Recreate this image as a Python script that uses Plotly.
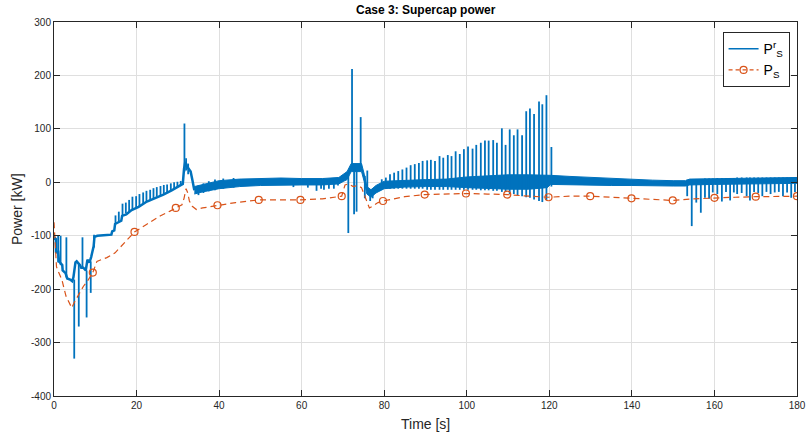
import plotly.graph_objects as go

# ---------------- data ----------------
# P_S^r : main trace (0-34 s)
blue_t = [0, 0.2, 0.45, 0.5, 0.9, 1.0, 1.2, 1.5, 1.7, 2.0, 2.1, 2.8, 3.2, 3.9, 4.4, 4.7, 5.2, 5.5, 6.3, 6.6,
          7.1, 7.7, 8.1, 8.6, 9.0, 9.4, 9.6, 9.8, 10.5, 12, 13.9, 14.1, 14.6, 14.8, 16.3, 16.5, 17.5, 18.8, 20.5,
          22.5, 24.5, 26.5, 28.5, 30.5, 31.2, 31.5, 31.8, 32.2, 32.7, 33.1, 33.5, 34.0]
blue_p = [-108, -104, -106, -132, -130, -128, -148, -150, -152, -155, -165, -170, -180, -182, -185, -178, -150, -148, -155, -160,
          -160, -165, -145, -150, -140, -122, -120, -102, -100, -99, -98, -92, -90, -78, -72, -63, -60, -52, -46,
          -36, -30, -23, -15, -7, -3, 25, 38, 30, 25, 20, 5, -15]

# P_S^r : dense oscillation band (34-180 s)
band_t = [34, 36, 40, 45, 50, 55, 60, 65, 69, 70.2, 71, 72, 74.5, 75.2, 75.8, 76.8, 78, 80, 85, 90, 95, 100,
          105, 110, 115, 119.5, 120.3, 125, 130, 135, 140, 145, 150, 153, 154, 160, 170, 180]
band_lo = [-22, -18, -12, -8, -6, -5, -5, -5, -3, 2, 5, 20, 20, 0, -22, -28, -20, -12, -9, -8, -8, -10,
           -12, -13, -13, -10, -4, -5, -5, -6, -6, -7, -7, -7, -5, -4, -3, -2]
band_hi = [-8, -4, 3, 6, 7, 8, 7, 7, 9, 16, 20, 35, 35, 14, -8, -14, -6, 2, 4, 5, 6, 10,
           12, 14, 14, 14, 13, 11, 9, 7, 5, 4, 3, 3, 6, 7, 8, 9]

# P_S^r : spikes (time, start level, tip level)
spike_t = [1.0, 1.6, 3.0, 4.9, 6.0, 6.9, 7.9, 8.9, 9.7,
           14.9, 15.7, 16.6, 17.4, 18.2, 19.0, 19.9, 20.7, 21.6, 22.4, 23.3, 24.1, 24.9, 25.8, 26.6, 27.4, 28.3,
           29.1, 29.9, 30.7, 31.6, 32.0, 32.5,
           35.0, 36.2, 37.5, 39.0, 41.0, 43.5, 58.0, 61.5, 63.6, 64.7, 65.4, 66.6, 67.8, 68.8,
           71.3, 72.2, 72.7, 73.3, 74.3, 75.3, 75.9, 76.6, 77.2,
           79.4, 80.4, 81.4, 82.4, 83.4, 84.4, 85.4, 86.4, 87.4, 88.4, 89.3, 90.4, 91.3, 92.3, 93.4, 94.3, 95.4,
           96.3, 97.3, 98.3, 99.3, 100.3, 101.4, 102.3, 103.4, 104.4, 105.3, 106.4, 107.3, 108.5, 109.4, 110.4,
           111.4, 112.3, 113.4, 114.4, 115.3, 116.3, 117.5, 118.3, 119.3, 120.5,
           153.4, 154.5, 155.6, 156.7, 157.7, 158.7, 159.6, 160.7, 161.8, 162.8, 163.8, 164.7, 165.5, 166.6,
           167.8, 168.6, 169.6, 170.6, 171.6, 172.6, 173.6, 174.6, 175.6, 176.6, 177.6, 178.6, 179.5]
spike_lo = [-150, -155, -178, -182, -152, -160, -165, -148, -122,
            -78, -74, -62, -58, -55, -51, -48, -45, -41, -36, -33, -30, -27, -25, -22, -19, -16,
            -13, -10, -7, 20, 22, 15,
            -24, -20, -17, -15, -12, -10, -9, -10, -16, -12, -14, -12, -12, -6,
            15, 28, 30, 30, 28, 12, -15, -15, -12,
            -12, -12, -12, -12, -12, -12, -12, -12, -12, -12, -12, -14, -14, -14, -14, -14, -14,
            -14, -14, -14, -14, -14, -14, -14, -15, -15, -15, -16, -16, -18, -18, -22,
            -22, -24, -26, -28, -29, -32, -35, -37, -33, -8,
            -26, -82, -38, -57, -29, -31, -19, -22, -36, -18, -34, -19, -22, -20,
            -26, -34, -18, -20, -26, -18, -22, -19, -18, -26, -19, -29, -18]
spike_hi = [-100, -100, -103, -330, -270, -103, -253, -207, -98,
            -62, -55, -40, -38, -33, -27, -26, -22, -19, -16, -14, -11, -9, -7, -5, -4, -2,
            0, 1, 2.5, 110, 45, 35,
            -6, -2, 2, 5, 7, 8, 3, 3, 2, 2, 2, 2, 2, 4,
            -95, 212, -60, -55, 122, -30, 22, -35, -30,
            5.6, 8.8, 15, 18, 21, 24, 27.5, 32, 34, 36, 40, 41, 42, 40, 49, 46, 51,
            49, 58, 53, 62, 67, 63, 70, 74, 78, 78, 79, 74, 101, 70, 99,
            88, 99, 88, 133, 138, 128, 151, 146, 163, 66,
            5, 6, 6, 6, 7, 7, 7, 8, 8, 8, 8, 8, 9, 9,
            9, 9, 9, 9, 9, 9, 9, 9, 9, 9, 9, 9, 9]

# P_S : dashed trace
ps_t = [0, 0.4, 0.6, 1.2, 1.9, 2.9, 4.3, 4.9, 5.9, 7.1, 8.1, 9.4, 10.4, 12.8, 14.8, 17.2, 19.5, 22.4, 25.7, 28.1,
        29.5, 31.0, 31.5, 32.0, 32.4, 32.8, 33.5, 34.5, 36.0, 39.6, 44, 49.6, 55, 59.7, 65, 69.7, 70.5, 71.3,
        72.5, 73.5, 74.5, 75.3, 76.0, 76.4, 77.1, 78.5, 79.7, 85, 89.8, 95, 99.8, 105, 109.8, 115, 119.8, 125,
        129.9, 135, 139.9, 145, 149.9, 155, 160.0, 165, 170.0, 175, 180]
ps_p = [-75, -150, -158, -170, -182, -213, -235, -225, -210, -195, -185, -169, -148, -141, -132, -113, -93, -79, -63, -54,
        -48, -42, -30, -12, -20, -35, -45, -51, -48, -43, -38, -33, -33, -33, -31, -26, -5, -3,
        -8, -6, -10, -26, -38, -48, -45, -38, -35, -27, -23, -22, -21, -22, -23, -26, -28, -26,
        -26, -28, -30, -32, -34, -31, -29, -28, -27, -26, -26]

# P_S : circle markers
mark_t = [9.4, 19.5, 29.5, 39.6, 49.6, 59.7, 69.7, 79.7, 89.8, 99.8, 109.8, 119.8, 129.9, 139.9, 149.9, 160.0, 170.0, 180.0]
mark_p = [-169, -93, -48, -43, -33, -33, -26, -35, -23, -21, -23, -28, -26, -30, -34, -29, -27, -26]

x_ticks = [0, 20, 40, 60, 80, 100, 120, 140, 160, 180]
x_tick_labels = ["0", "20", "40", "60", "80", "100", "120", "140", "160", "180"]
y_ticks = [-400, -300, -200, -100, 0, 100, 200, 300]
y_tick_labels = ["-400", "-300", "-200", "-100", "0", "100", "200", "300"]

# ---------------- figure ----------------
BLUE = "#0072BD"
ORANGE = "#D95319"
AX = "#262626"

fig = go.Figure()

# band (lower + filled upper)
fig.add_trace(go.Scatter(x=band_t, y=band_lo, mode="lines", line=dict(color=BLUE, width=1),
                         showlegend=False, hoverinfo="skip"))
fig.add_trace(go.Scatter(x=band_t, y=band_hi, mode="lines", line=dict(color=BLUE, width=1),
                         fill="tonexty", fillcolor=BLUE, showlegend=False, hoverinfo="skip"))

# spikes as vertical segments
sx, sy = [], []
for t, lo, hi in zip(spike_t, spike_lo, spike_hi):
    sx += [t, t, None]
    sy += [lo, hi, None]
fig.add_trace(go.Scatter(x=sx, y=sy, mode="lines", line=dict(color=BLUE, width=1.8),
                         connectgaps=False, showlegend=False, hoverinfo="skip"))

# main blue line
fig.add_trace(go.Scatter(x=blue_t, y=blue_p, mode="lines", line=dict(color=BLUE, width=2.5),
                         showlegend=False, hoverinfo="skip"))
# legend entry for blue
fig.add_trace(go.Scatter(x=[None], y=[None], mode="lines", line=dict(color=BLUE, width=1.5),
                         name="P<sup>r</sup><sub>S</sub>"))

# orange dashed line
fig.add_trace(go.Scatter(x=ps_t, y=ps_p, mode="lines",
                         line=dict(color=ORANGE, width=1.2, dash="6px,4px"),
                         showlegend=False, hoverinfo="skip"))
# orange markers (legend entry with dashed line + circle)
mx, my = [], []
for t, p in zip(mark_t, mark_p):
    mx += [t, None]
    my += [p, None]
fig.add_trace(go.Scatter(x=mx, y=my, mode="lines+markers", connectgaps=False,
                         line=dict(color=ORANGE, width=1.2, dash="4px,3px"),
                         marker=dict(symbol="circle-open", size=7, color=ORANGE, line=dict(width=1.2)),
                         name="P<sub>S</sub>"))

axis_common = dict(showline=True, linecolor=AX, linewidth=1, mirror="ticks",
                   ticks="inside", ticklen=6, tickcolor=AX, tickwidth=1,
                   showgrid=True, gridcolor="#dfdfdf", gridwidth=1, zeroline=False, automargin=False,
                   tickfont=dict(family="Liberation Sans, Arial, sans-serif", size=10, color=AX))

fig.update_xaxes(range=[0, 180], tickvals=x_ticks, ticktext=x_tick_labels, **axis_common)
fig.update_yaxes(range=[-400, 300], tickvals=y_ticks, ticktext=y_tick_labels, **axis_common)

fig.update_layout(
    width=807, height=436,
    margin=dict(l=54, r=10, t=22, b=40, autoexpand=False),
    paper_bgcolor="white", plot_bgcolor="white",
    font=dict(family="Liberation Sans, Arial, sans-serif", color=AX),
    legend=dict(x=0.99, xanchor="right", y=0.973, yanchor="top", traceorder="normal",
                bgcolor="white", bordercolor=AX, borderwidth=1,
                font=dict(size=14, color="black"), itemwidth=30, tracegroupgap=0),
    annotations=[
        dict(text="<b>Case 3: Supercap power</b>", x=0.5, y=1, xref="paper", yref="paper",
             xanchor="center", yanchor="bottom", yshift=3, showarrow=False,
             font=dict(size=12, color="black")),
        dict(text="Time [s]", x=0.5, y=0, xref="paper", yref="paper",
             xanchor="center", yanchor="top", yshift=-18, showarrow=False,
             font=dict(size=14, color=AX)),
        dict(text="Power [kW]", x=0, y=0.5, xref="paper", yref="paper", textangle=-90,
             xanchor="right", yanchor="middle", xshift=-27, showarrow=False,
             font=dict(size=14, color=AX)),
    ],
)

fig.write_html("out.html", config={"displayModeBar": False},
               post_script="document.body.style.margin='0px';document.body.style.overflow='hidden';")
